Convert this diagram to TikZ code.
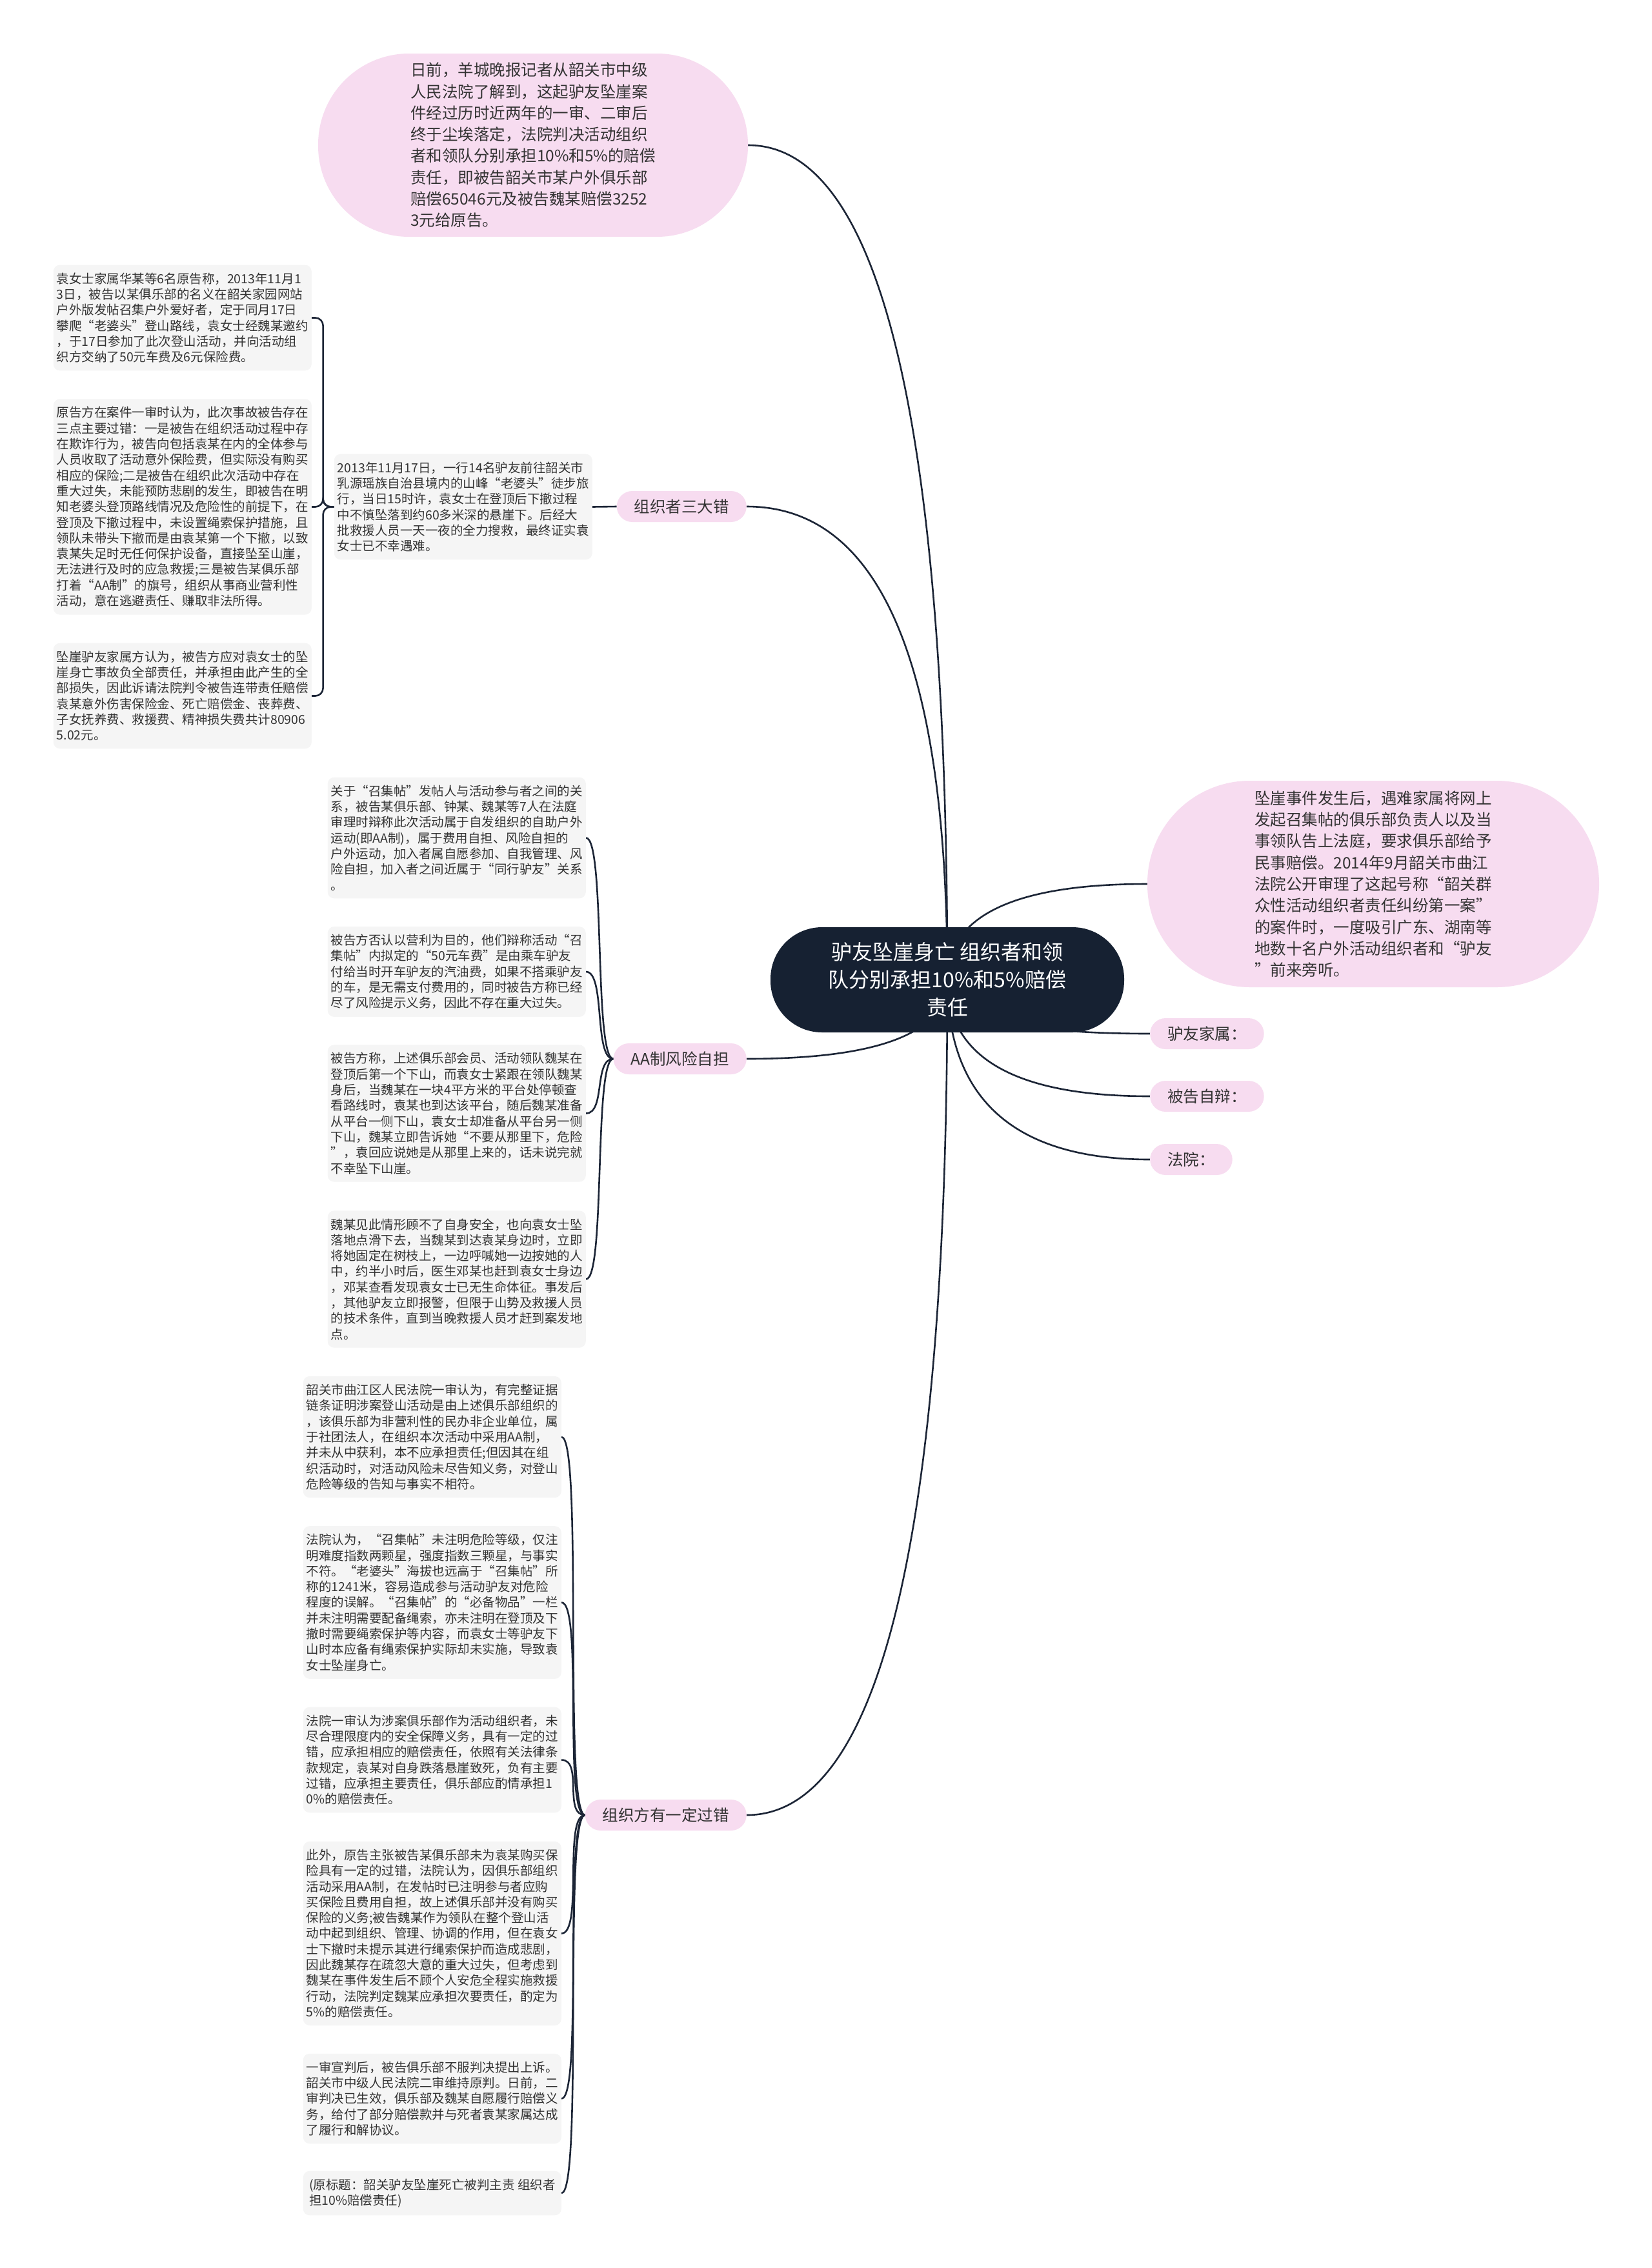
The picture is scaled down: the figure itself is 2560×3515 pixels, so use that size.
\documentclass[tikz,border=0pt]{standalone}
\usepackage{fontspec}
\setmainfont{Noto Sans CJK SC}
\usetikzlibrary{calc}
\definecolor{pinkf}{HTML}{F7DCF0}
\definecolor{grayf}{HTML}{F5F5F5}
\definecolor{navy}{HTML}{162132}
\definecolor{linec}{HTML}{1C2536}
\definecolor{txt}{HTML}{333333}
\pgfdeclarelayer{bg}
\pgfdeclarelayer{lines}
\pgfsetlayers{bg,lines,main}
\tikzset{
  bubblebox/.style={fill=pinkf, draw=none, align=left, text=txt, inner sep=0pt,
    font=\fontsize{24.5bp}{33.3bp}\selectfont},
  labelbox/.style={fill=pinkf, draw=none, rounded corners=24bp, minimum height=48bp,
    inner xsep=27bp, inner ysep=0pt, text=txt, font=\fontsize{24.5bp}{30bp}\selectfont},
  graybox/.style={fill=grayf, draw=none, rounded corners=10bp, align=left, minimum width=400bp,
    inner xsep=0pt, inner ysep=12bp, text=txt, font=\fontsize{19.5bp}{24.3bp}\selectfont},
  centerbox/.style={fill=navy, draw=none, text=white, rounded corners=80bp, minimum width=548bp,
    minimum height=163bp, align=center, inner sep=0pt, font=\fontsize{32bp}{43bp}\selectfont},
  conn/.style={draw=linec, line width=2.6bp},
  brline/.style={draw=linec, line width=2.6bp}
}
\begin{document}
\begin{tikzpicture}[x=1bp, y=-1bp]
\useasboundingbox (0,0) rectangle (2560,3515);
\begin{pgfonlayer}{bg}
\fill[white] (0,0) rectangle (2560,3515);
\end{pgfonlayer}

% central topic
\node[centerbox] (ctr) at (1468,1518.5) {驴友坠崖身亡 组织者和领\\队分别承担10\%和5\%赔偿\\责任};

% pink bubbles
\node[bubblebox, rounded corners=141bp, minimum width=666bp, minimum height=284bp] (tb) at (826,225)
{日前，羊城晚报记者从韶关市中级\\人民法院了解到，这起驴友坠崖案\\件经过历时近两年的一审、二审后\\终于尘埃落定，法院判决活动组织\\者和领队分别承担10\%和5\%的赔偿\\责任，即被告韶关市某户外俱乐部\\赔偿65046元及被告魏某赔偿3252\\3元给原告。};
\node[bubblebox, rounded corners=159bp, minimum width=700bp, minimum height=320bp] (rb) at (2128,1370)
{坠崖事件发生后，遇难家属将网上\\发起召集帖的俱乐部负责人以及当\\事领队告上法庭，要求俱乐部给予\\民事赔偿。2014年9月韶关市曲江\\法院公开审理了这起号称“韶关群\\众性活动组织者责任纠纷第一案”\\的案件时，一度吸引广东、湖南等\\地数十名户外活动组织者和“驴友\\”前来旁听。};

% first-level labels
\node[labelbox, anchor=east] (k1) at (1157,785) {组织者三大错};
\node[labelbox, anchor=east] (k2) at (1157,1641) {AA制风险自担};
\node[labelbox, anchor=east] (k3) at (1157,2813) {组织方有一定过错};
\node[labelbox, anchor=west] (r1) at (1782,1602) {驴友家属：};
\node[labelbox, anchor=west] (r2) at (1782,1699) {被告自辩：};
\node[labelbox, anchor=west] (r3) at (1782,1797) {法院：};

% group 1
\node[graybox, anchor=east] (t0) at (918,785.5)
{2013年11月17日，一行14名驴友前往韶关市\\乳源瑶族自治县境内的山峰“老婆头”徒步旅\\行，当日15时许，袁女士在登顶后下撤过程\\中不慎坠落到约60多米深的悬崖下。后经大\\批救援人员一天一夜的全力搜救，最终证实袁\\女士已不幸遇难。};
\node[graybox, anchor=east] (b1) at (483,492.5)
{袁女士家属华某等6名原告称，2013年11月1\\3日，被告以某俱乐部的名义在韶关家园网站\\户外版发帖召集户外爱好者，定于同月17日\\攀爬“老婆头”登山路线，袁女士经魏某邀约\\，于17日参加了此次登山活动，并向活动组\\织方交纳了50元车费及6元保险费。};
\node[graybox, anchor=east] (b2) at (483,785.5)
{原告方在案件一审时认为，此次事故被告存在\\三点主要过错：一是被告在组织活动过程中存\\在欺诈行为，被告向包括袁某在内的全体参与\\人员收取了活动意外保险费，但实际没有购买\\相应的保险;二是被告在组织此次活动中存在\\重大过失，未能预防悲剧的发生，即被告在明\\知老婆头登顶路线情况及危险性的前提下，在\\登顶及下撤过程中，未设置绳索保护措施，且\\领队未带头下撤而是由袁某第一个下撤，以致\\袁某失足时无任何保护设备，直接坠至山崖，\\无法进行及时的应急救援;三是被告某俱乐部\\打着“AA制”的旗号，组织从事商业营利性\\活动，意在逃避责任、赚取非法所得。};
\node[graybox, anchor=east] (b3) at (483,1078.5)
{坠崖驴友家属方认为，被告方应对袁女士的坠\\崖身亡事故负全部责任，并承担由此产生的全\\部损失，因此诉请法院判令被告连带责任赔偿\\袁某意外伤害保险金、死亡赔偿金、丧葬费、\\子女抚养费、救援费、精神损失费共计80906\\5.02元。};

% group 2
\node[graybox, anchor=east] (a1) at (908,1298.5)
{关于“召集帖”发帖人与活动参与者之间的关\\系，被告某俱乐部、钟某、魏某等7人在法庭\\审理时辩称此次活动属于自发组织的自助户外\\运动(即AA制)，属于费用自担、风险自担的\\户外运动，加入者属自愿参加、自我管理、风\\险自担，加入者之间近属于“同行驴友”关系\\。};
\node[graybox, anchor=east] (a2) at (908,1506)
{被告方否认以营利为目的，他们辩称活动“召\\集帖”内拟定的“50元车费”是由乘车驴友\\付给当时开车驴友的汽油费，如果不搭乘驴友\\的车，是无需支付费用的，同时被告方称已经\\尽了风险提示义务，因此不存在重大过失。};
\node[graybox, anchor=east] (a3) at (908,1725.5)
{被告方称，上述俱乐部会员、活动领队魏某在\\登顶后第一个下山，而袁女士紧跟在领队魏某\\身后，当魏某在一块4平方米的平台处停顿查\\看路线时，袁某也到达该平台，随后魏某准备\\从平台一侧下山，袁女士却准备从平台另一侧\\下山，魏某立即告诉她“不要从那里下，危险\\”，袁回应说她是从那里上来的，话未说完就\\不幸坠下山崖。};
\node[graybox, anchor=east] (a4) at (908,1982.5)
{魏某见此情形顾不了自身安全，也向袁女士坠\\落地点滑下去，当魏某到达袁某身边时，立即\\将她固定在树枝上，一边呼喊她一边按她的人\\中，约半小时后，医生邓某也赶到袁女士身边\\，邓某查看发现袁女士已无生命体征。事发后\\，其他驴友立即报警，但限于山势及救援人员\\的技术条件，直到当晚救援人员才赶到案发地\\点。};

% group 3
\node[graybox, anchor=east] (c1) at (870,2227)
{韶关市曲江区人民法院一审认为，有完整证据\\链条证明涉案登山活动是由上述俱乐部组织的\\，该俱乐部为非营利性的民办非企业单位，属\\于社团法人，在组织本次活动中采用AA制，\\并未从中获利，本不应承担责任;但因其在组\\织活动时，对活动风险未尽告知义务，对登山\\危险等级的告知与事实不相符。};
\node[graybox, anchor=east] (c2) at (870,2483.5)
{法院认为，“召集帖”未注明危险等级，仅注\\明难度指数两颗星，强度指数三颗星，与事实\\不符。“老婆头”海拔也远高于“召集帖”所\\称的1241米，容易造成参与活动驴友对危险\\程度的误解。“召集帖”的“必备物品”一栏\\并未注明需要配备绳索，亦未注明在登顶及下\\撤时需要绳索保护等内容，而袁女士等驴友下\\山时本应备有绳索保护实际却未实施，导致袁\\女士坠崖身亡。};
\node[graybox, anchor=east] (c3) at (870,2727.5)
{法院一审认为涉案俱乐部作为活动组织者，未\\尽合理限度内的安全保障义务，具有一定的过\\错，应承担相应的赔偿责任，依照有关法律条\\款规定，袁某对自身跌落悬崖致死，负有主要\\过错，应承担主要责任，俱乐部应酌情承担1\\0\%的赔偿责任。};
\node[graybox, anchor=east] (c4) at (870,2996.5)
{此外，原告主张被告某俱乐部未为袁某购买保\\险具有一定的过错，法院认为，因俱乐部组织\\活动采用AA制，在发帖时已注明参与者应购\\买保险且费用自担，故上述俱乐部并没有购买\\保险的义务;被告魏某作为领队在整个登山活\\动中起到组织、管理、协调的作用，但在袁女\\士下撤时未提示其进行绳索保护而造成悲剧，\\因此魏某存在疏忽大意的重大过失，但考虑到\\魏某在事件发生后不顾个人安危全程实施救援\\行动，法院判定魏某应承担次要责任，酌定为\\5\%的赔偿责任。};
\node[graybox, anchor=east] (c5) at (870,3252.5)
{一审宣判后，被告俱乐部不服判决提出上诉。\\韶关市中级人民法院二审维持原判。日前，二\\审判决已生效，俱乐部及魏某自愿履行赔偿义\\务，给付了部分赔偿款并与死者袁某家属达成\\了履行和解协议。};
\node[graybox, anchor=east] (c6) at (870,3399)
{(原标题：韶关驴友坠崖死亡被判主责 组织者\\担10\%赔偿责任)};

% connectors
\begin{pgfonlayer}{lines}
\coordinate (o) at (ctr.center);
\foreach \t in {tb.east, k1.east, k2.east, k3.east, rb.west, r1.west, r2.west, r3.west}{
  \draw[conn] (o) .. controls ($(o)!0.6667!(o |- \t)$) and ($(\t)!0.6667!(o |- \t)$) .. (\t);
}
\draw[brline] (k1.west) -- (t0.east);
\foreach \b in {b1, b2, b3}{
  \draw[brline, rounded corners=12bp] (t0.west) -- ++(-17,0) |- (\b.east);
}
\foreach \b in {a1, a2, a3, a4}{
  \draw[brline] (k2.west) .. controls +(-30.6,0) and +(30.6,0) .. (\b.east);
}
\foreach \b in {c1, c2, c3, c4, c5, c6}{
  \draw[brline] (k3.west) .. controls +(-34,0) and +(34,0) .. (\b.east);
}
\end{pgfonlayer}
\end{tikzpicture}
\end{document}
